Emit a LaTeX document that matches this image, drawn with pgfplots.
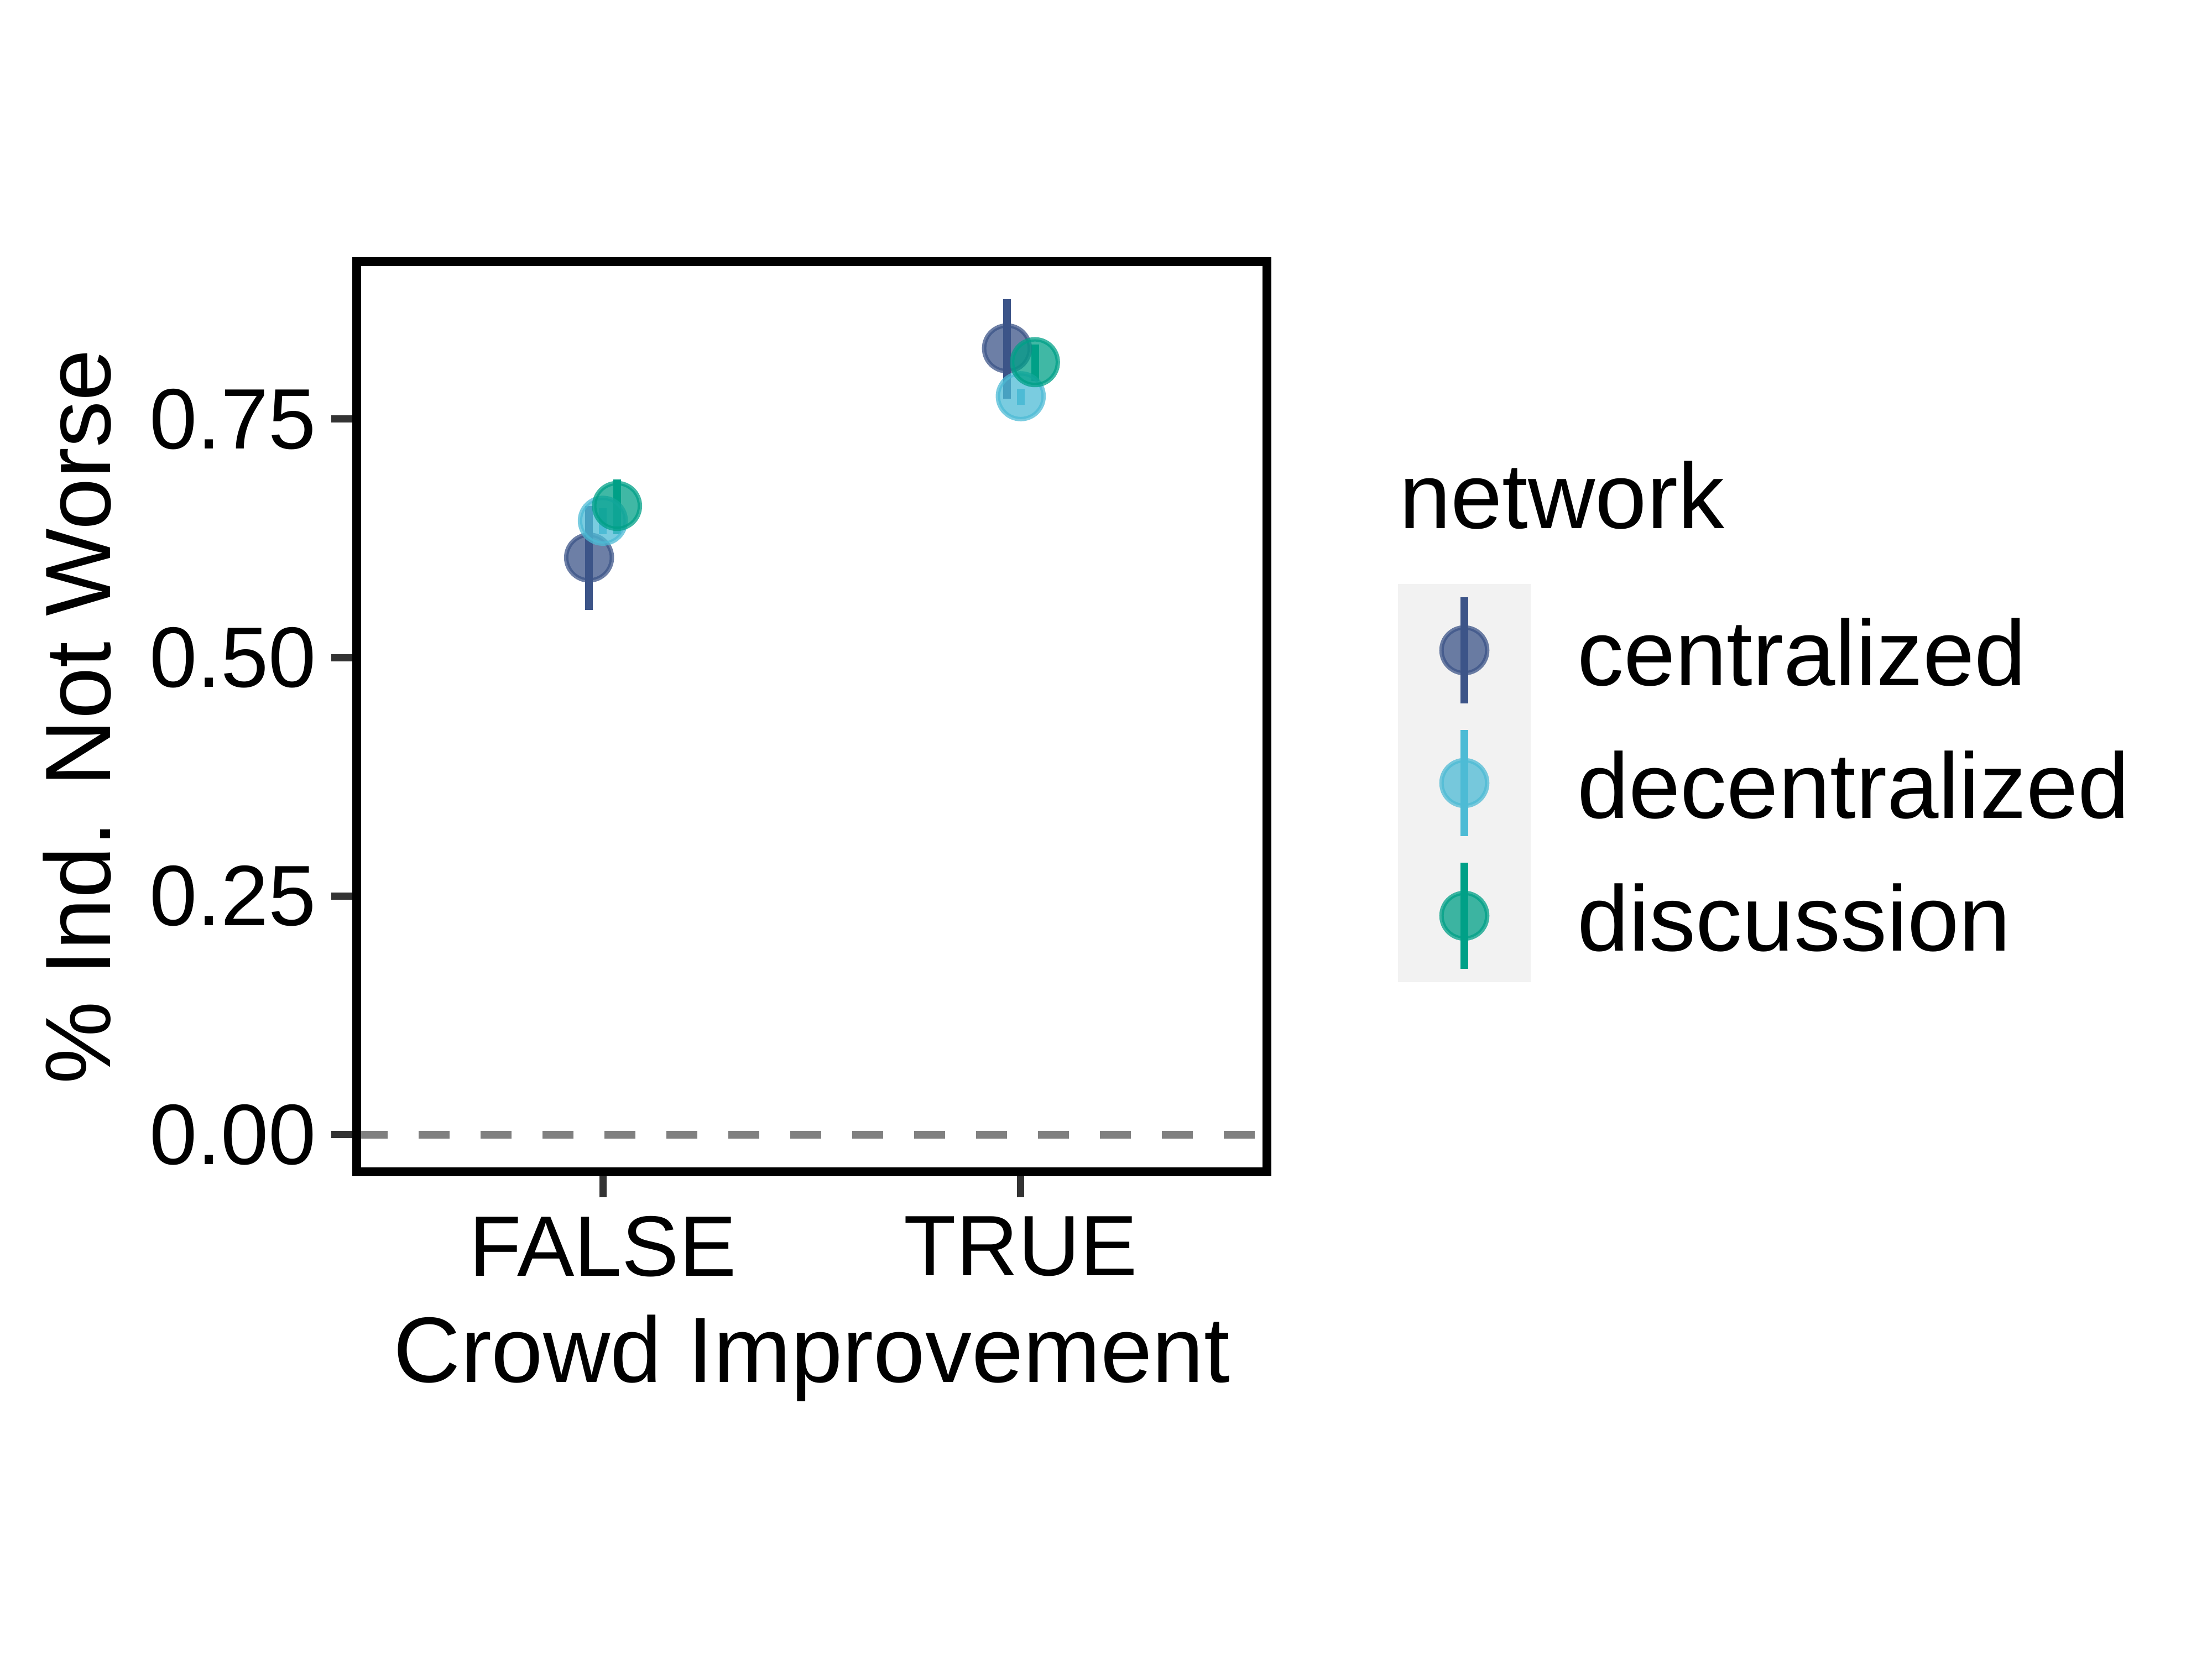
\documentclass[border=0pt]{standalone}
\usepackage{fontspec}
\setmainfont{Liberation Sans}
\usepackage{pgfplots}
\usepackage{pgfplotstable}
\pgfplotsset{compat=1.18}
\definecolor{cen}{HTML}{3C5488}
\definecolor{dec}{HTML}{4DBBD5}
\definecolor{dis}{HTML}{00A087}
\definecolor{tickc}{HTML}{333333}
\definecolor{legbg}{HTML}{F2F2F2}

\pgfplotstableread{
x y ep em
0.967 0.6049 0.0541 0.0547
1.967 0.8242 0.0516 0.0526
}\centab
\pgfplotstableread{
x y ep em
1.000 0.6435 0.0132 0.0139
2.000 0.7740 0.0081 0.0089
}\dectab
\pgfplotstableread{
x y ep em
1.034 0.6590 0.0280 0.0294
2.034 0.8097 0.0188 0.0197
}\distab

\pgfplotsset{
  pt/.style={only marks, mark=*, mark size=4.13pt,
    mark options={draw=#1, fill=#1, fill opacity=0.75, draw opacity=0.75, line width=0.8pt}},
  eb/.style={draw=none, mark=none,
    error bars/.cd, y dir=both, y explicit,
    error bar style={draw=#1, line width=1.4pt, solid}, error mark=none},
}

\begin{document}
\begin{tikzpicture}
\path[use as bounding box] (0,0) rectangle (400pt,300pt);
\begin{axis}[
  at={(64.5pt,88.05pt)}, anchor=south west,
  scale only axis, width=164.6pt, height=164.65pt,
  xmin=0.411, xmax=2.589, ymin=-0.0393, ymax=0.9152,
  xtick={1,2}, xticklabels={FALSE,TRUE},
  ytick={0,0.25,0.5,0.75}, yticklabels={0.00,0.25,0.50,0.75},
  tick align=outside, tick pos=left, major tick length=4.6pt,
  major tick style={line width=1.3pt, color=tickc},
  axis line style={line width=1.6pt, black},
  ticklabel style={font=\fontsize{15.5}{18}\selectfont, inner sep=0pt},
  yticklabel style={xshift=-2.5pt},
  xticklabel style={yshift=-3.2pt},
  xlabel={Crowd Improvement}, ylabel={\% Ind. Not Worse},
  label style={font=\fontsize{16.8}{20}\selectfont, inner sep=0pt},
  xlabel style={at={(axis description cs:0.5,-0.2311)}, anchor=base},
  ylabel style={at={(axis description cs:-0.2704,0.5)}, anchor=base},
  axis on top,
]
\addplot[color={rgb,255:red,128;green,128;blue,128}, line width=1.4pt, dash pattern=on 5.6pt off 5.6pt] coordinates {(0.411,0) (2.589,0)};
\addplot[pt=cen] table[x=x, y=y] {\centab};
\addplot[pt=dec] table[x=x, y=y] {\dectab};
\addplot[pt=dis] table[x=x, y=y] {\distab};
\addplot[eb=cen] table[x=x, y=y, y error plus=ep, y error minus=em] {\centab};
\addplot[eb=dec] table[x=x, y=y, y error plus=ep, y error minus=em] {\dectab};
\addplot[eb=dis] table[x=x, y=y, y error plus=ep, y error minus=em] {\distab};
\end{axis}

\begin{axis}[
  at={(252.8pt,122.4pt)}, anchor=south west,
  scale only axis, width=24pt, height=72pt,
  xmin=0, xmax=24, ymin=0, ymax=72,
  hide axis, clip=false,
]
\fill[legbg] (axis cs:0,0) rectangle (axis cs:24,72);
\addplot[pt=cen] coordinates {(12,60)};
\addplot[pt=dec] coordinates {(12,36)};
\addplot[pt=dis] coordinates {(12,12)};
\addplot[eb=cen] coordinates {(12,60) +- (0,9.6)};
\addplot[eb=dec] coordinates {(12,36) +- (0,9.6)};
\addplot[eb=dis] coordinates {(12,12) +- (0,9.6)};
\node[anchor=base west, inner sep=0pt, font=\fontsize{16.8}{20}\selectfont] at (axis cs:0,82) {network};
\node[anchor=base west, inner sep=0pt, font=\fontsize{16.8}{20}\selectfont] at (axis cs:32.2,53.6) {centralized};
\node[anchor=base west, inner sep=0pt, font=\fontsize{16.8}{20}\selectfont] at (axis cs:32.2,29.6) {decentralized};
\node[anchor=base west, inner sep=0pt, font=\fontsize{16.8}{20}\selectfont] at (axis cs:32.2,5.6) {discussion};
\end{axis}
\end{tikzpicture}
\end{document}
